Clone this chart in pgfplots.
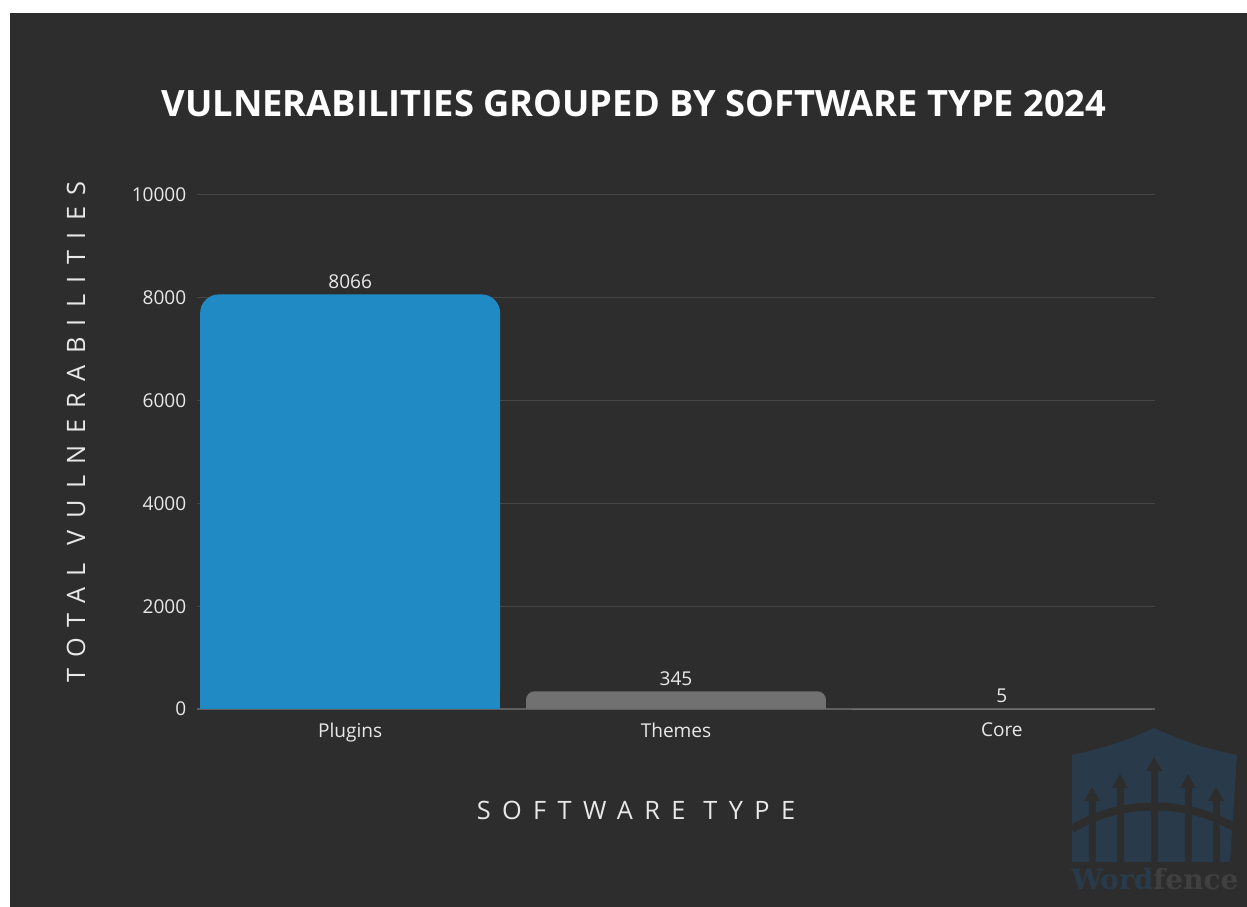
\documentclass[border=0pt]{standalone}
\usepackage{fontspec}
\setmainfont{Open Sans}
\newfontfamily\spaced[LetterSpace=45]{Open Sans}
\newfontfamily\logofont{DejaVu Serif}
\usepackage{pgfplots}
\pgfplotsset{compat=1.18}
\definecolor{bg}{HTML}{2D2D2D}
\definecolor{gridc}{HTML}{464646}
\definecolor{zeroc}{HTML}{5E5E5E}
\definecolor{barblue}{HTML}{208AC5}
\definecolor{bargrey}{HTML}{717171}
\definecolor{txt}{HTML}{E8E8E8}
\definecolor{shield}{HTML}{293B4A}
\definecolor{fencec}{HTML}{404040}
\begin{document}
\begin{tikzpicture}[x=0.75pt,y=0.75pt]
\fill[white] (0,0) rectangle (1247,907);
\fill[bg] (10,0) rectangle (1247,894);
% watermark logo
\begin{scope}
\fill[shield] (1072,45) -- (1072,152) .. controls (1110,160) and (1135,170) .. (1154,179) .. controls (1173,170) and (1198,160) .. (1237,152) -- (1230,45) -- cycle;
\foreach \xx/\tp in {1092/120,1120/133,1154/150,1188/133,1216/120}{
  \fill[bg] (\xx-3.5,45) rectangle (\xx+3.5,\tp-12);
  \fill[bg] (\xx-8,\tp-14) -- (\xx,\tp) -- (\xx+8,\tp-14) -- cycle;
}
\draw[bg,line width=6] (1072,78) .. controls (1120,108) and (1188,108) .. (1237,78);
\node[anchor=base west,inner sep=0,font=\logofont\bfseries\fontsize{21}{23}\selectfont] at (1071,17) {\textcolor{shield}{Word}\textcolor{fencec}{fence}};
\end{scope}
\node[font=\bfseries\fontsize{27.2}{32}\selectfont, text=white] at (634,803) {VULNERABILITIES GROUPED BY SOFTWARE TYPE 2024};
\node[font=\spaced\fontsize{19}{22}\selectfont, text=txt] at (636,97) {SOFTWARE TYPE};
\node[font=\spaced\fontsize{19}{22}\selectfont, text=txt, rotate=90] at (76,475) {TOTAL VULNERABILITIES};
\begin{axis}[
  at={(147.75pt,148.5pt)}, anchor=south west,
  scale only axis, width=718.5pt, height=385.5pt,
  xmin=-0.47, xmax=2.47, ymin=0, ymax=10000,
  xtick={0,1,2}, xticklabels={Plugins,Themes,Core},
  ytick={0,2000,4000,6000,8000,10000},
  /pgf/number format/assume math mode=true,
  /pgf/number format/1000 sep={},
  scaled y ticks=false,
  ticklabel style={font=\fontsize{14.3}{17}\selectfont, text=txt},
  major tick length=0pt,
  ymajorgrids, major grid style={gridc, line width=0.75pt},
  axis x line*=bottom, axis y line*=left,
  x axis line style={zeroc, line width=1pt},
  y axis line style={draw=none},
  xticklabel style={yshift=-7pt},
  yticklabel style={xshift=-4.5pt},
  clip=false,
  bar width=225pt,
  nodes near coords,
  every node near coord/.append style={font=\fontsize{14.3}{17}\selectfont, text=txt, yshift=1pt, /pgf/number format/1000 sep={}},
]
\addplot[ybar, bar shift=0pt, fill=barblue, draw=none, rounded corners=14pt] coordinates {(0,8066)};
\addplot[ybar, bar shift=0pt, fill=barblue, draw=none, nodes near coords=\relax, y filter/.expression={y/2}] coordinates {(0,8066)};
\addplot[ybar, bar shift=0pt, fill=bargrey, draw=none, rounded corners=6.5pt] coordinates {(1,345)};
\addplot[ybar, bar shift=0pt, fill=bargrey, draw=none, nodes near coords=\relax, y filter/.expression={y/2}] coordinates {(1,345)};
\addplot[ybar, bar shift=0pt, fill=bargrey, draw=none] coordinates {(2,5)};
\end{axis}
\end{tikzpicture}
\end{document}
